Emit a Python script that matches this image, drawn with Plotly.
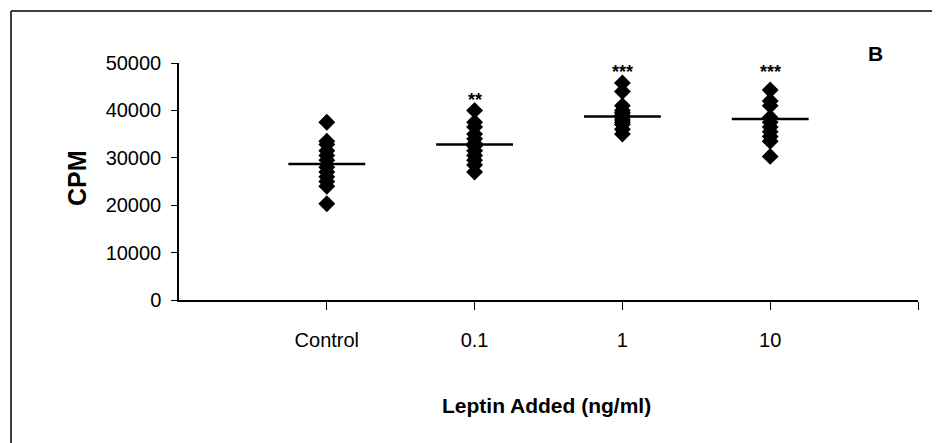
import plotly.graph_objects as go

# data
categories = ["Control", "0.1", "1", "10"]
control = [37500, 33500, 32800, 31500, 30500, 29500, 28000, 27000, 26000, 25000, 24000, 20300]
lep_01 = [40000, 37500, 36500, 35000, 34000, 33000, 32500, 31500, 30500, 29500, 28500, 27000]
lep_1 = [45800, 44000, 41000, 40000, 39500, 39000, 38500, 38000, 37500, 37000, 36000, 35000]
lep_10 = [44300, 42000, 41000, 38500, 37500, 36500, 35500, 34500, 33500, 30300]
means = [28700, 32800, 38700, 38200]
stars = ["", "**", "***", "***"]
star_y = [0, 42300, 48000, 48000]

groups = [control, lep_01, lep_1, lep_10]

fig = go.Figure()

for i, vals in enumerate(groups):
    pos = i + 1
    fig.add_trace(go.Scatter(
        x=[pos] * len(vals), y=vals, mode="markers",
        marker=dict(symbol="diamond", size=13, color="black"),
        showlegend=False, hoverinfo="y"))
    fig.add_trace(go.Scatter(
        x=[pos - 0.26, pos + 0.26], y=[means[i], means[i]], mode="lines",
        line=dict(color="black", width=2.5),
        showlegend=False, hoverinfo="skip"))

# page has an 8px body margin, so the figure is a bit smaller than the window
fig.update_layout(
    width=932, height=435,
    margin=dict(l=171, r=22, t=55, b=143),
    paper_bgcolor="white", plot_bgcolor="white",
    font=dict(family="Liberation Sans, Arial, sans-serif", color="black"),
    xaxis=dict(
        range=[0, 5], tickvals=[1, 2, 3, 4, 5], ticktext=categories + [""],
        showgrid=False, zeroline=False, showline=True, linecolor="black",
        linewidth=1.5, ticks="outside", ticklen=8, tickcolor="black",
        tickfont=dict(size=20), ticklabelstandoff=13),
    yaxis=dict(
        range=[0, 50000], dtick=10000, tickformat="d", showgrid=False,
        zeroline=False, showline=True, linecolor="black", linewidth=1.5,
        ticks="outside", ticklen=6, tickcolor="black", tickfont=dict(size=20),
        ticklabelstandoff=6),
    shapes=[
        dict(type="line", xref="paper", yref="paper",
             x0=(11 - 179) / 739, x1=(945 - 179) / 739,
             y0=(300 - 11) / 237, y1=(300 - 11) / 237,
             line=dict(color="black", width=1.5)),
        dict(type="line", xref="paper", yref="paper",
             x0=(11 - 179) / 739, x1=(11 - 179) / 739,
             y0=(300 - 11) / 237, y1=(300 - 450) / 237,
             line=dict(color="black", width=1.5)),
    ],
)

for i, s in enumerate(stars):
    if s:
        fig.add_annotation(x=i + 1, y=star_y[i], text="<b>" + s + "</b>",
                           showarrow=False, font=dict(size=18, color="black"))

label_style = dict(xref="paper", yref="paper", showarrow=False,
                   xanchor="center", yanchor="middle")
fig.add_annotation(x=(77 - 179) / 739, y=(300 - 178) / 237,
                   text="<b>CPM</b>", textangle=-90,
                   font=dict(size=25), **label_style)
fig.add_annotation(x=(546 - 179) / 739, y=(300 - 405) / 237,
                   text="<b>Leptin Added (ng/ml)</b>",
                   font=dict(size=21), **label_style)
fig.add_annotation(x=(875 - 179) / 739, y=(300 - 53) / 237,
                   text="<b>B</b>", font=dict(size=21), **label_style)

fig.write_html("out.html")
